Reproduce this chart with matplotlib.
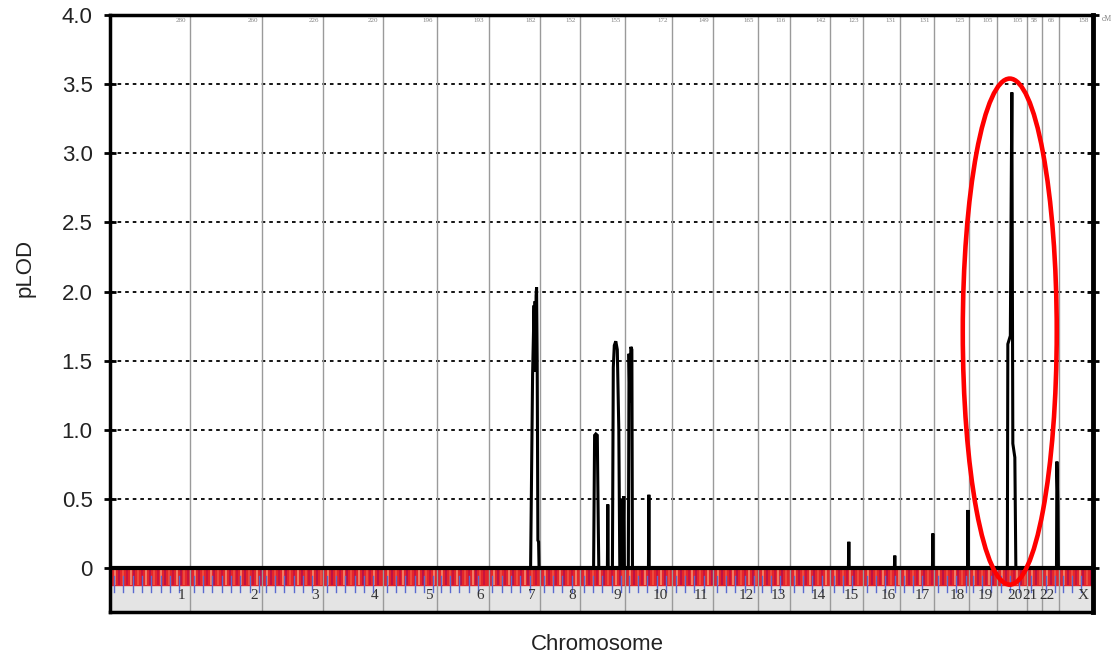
import matplotlib
matplotlib.use("Agg")
import matplotlib.pyplot as plt
from matplotlib.patches import Ellipse, Rectangle
import numpy as np

# chromosomes, drawn width (cM) and the length printed on top of each column
chrom_names = ["1", "2", "3", "4", "5", "6", "7", "8", "9", "10", "11", "12",
               "13", "14", "15", "16", "17", "18", "19", "20", "21", "22", "X"]
chrom_len = [291, 262, 222, 218, 196, 189, 186, 146, 164, 171, 149, 164,
             116, 146, 120, 135, 124, 127, 102, 109, 55, 62, 124]
chrom_top = ["280", "260", "226", "220", "196", "193", "182", "152", "155", "172", "149", "165",
             "116", "142", "123", "131", "131", "125", "105", "105", "58", "66", "158"]

# pLOD trace: chromosome index, cM from start of chromosome, pLOD
trace_chr = [6, 6, 6, 6, 6, 6, 6, 6, 6, 6, 6, 6,
             8, 8, 8, 8, 8, 8,
             8, 8, 8,
             8, 8, 8, 8, 8, 8, 8,
             8, 8, 8, 8, 8,
             9, 9, 9, 9, 9, 9,
             9, 9, 9,
             14, 14, 14,
             15, 15, 15,
             16, 16, 16,
             17, 17, 17,
             19, 19, 19, 19, 19, 19, 19,
             21, 21, 21, 21]
trace_cm = [152.9, 160.2, 165.6, 167.4, 169.3, 171.1, 172.9, 174.7, 176.9, 179.5, 182.0, 183.8,
            50.2, 53.9, 58.2, 63.7, 67.3, 69.2,
            100.5, 101.9, 103.4,
            118.7, 121.9, 125.6, 131.0, 136.5, 142.0, 145.6,
            152.9, 155.1, 157.2, 160.2, 162.3,
            12.7, 15.3, 18.2, 21.8, 25.5, 27.7,
            85.9, 87.4, 88.8,
            67.7, 69.2, 70.7,
            115.0, 116.5, 118.0,
            118.6, 120.1, 121.6,
            122.3, 123.8, 125.3,
            38.2, 40.0, 49.1, 54.6, 58.2, 65.5, 69.2,
            53.1, 54.6, 58.2, 60.0]
trace_lod = [0, 1.40, 1.90, 1.42, 1.93, 1.45, 1.97, 2.03, 1.50, 0.20, 0.19, 0,
             0, 0.96, 0.97, 0.96, 0.30, 0,
             0, 0.46, 0,
             0, 1.45, 1.61, 1.64, 1.58, 1.00, 0,
             0, 0.50, 0.10, 0.52, 0,
             0, 1.55, 1.20, 1.60, 1.58, 0,
             0, 0.53, 0,
             0, 0.19, 0,
             0, 0.09, 0,
             0, 0.25, 0,
             0, 0.42, 0,
             0, 1.62, 1.68, 3.44, 0.90, 0.80, 0,
             0, 0.77, 0.45, 0]

yticks = [0, 0.5, 1.0, 1.5, 2.0, 2.5, 3.0, 3.5, 4.0]
ytick_labels = ["0", "0.5", "1.0", "1.5", "2.0", "2.5", "3.0", "3.5", "4.0"]

plt.rcParams['font.family'] = ['Liberation Sans', 'DejaVu Sans']

starts = np.concatenate([[0], np.cumsum(chrom_len)[:-1]])
ends = np.cumsum(chrom_len)
total = ends[-1]

pos = starts[np.array(trace_chr)] + np.array(trace_cm)
xs = np.concatenate([[0], pos, [total]])
ys = np.concatenate([[0], trace_lod, [0]])

fig = plt.figure(figsize=(11.11, 6.58), dpi=100)
ax = fig.add_axes([110 / 1111, 46 / 658, 983 / 1111, 597 / 658])

y_bot = -0.318
band = -0.123
ax.set_xlim(0, total)
ax.set_ylim(y_bot, 4.0)

# grey band with chromosome numbers
ax.add_patch(Rectangle((0, y_bot), total, band - y_bot, color="#e4e4e4", zorder=0))
# red marker band
ax.add_patch(Rectangle((0, band), total, -band, color="#e4262a", zorder=1))
for s, l in zip(starts, chrom_len):
    k = 0
    for x in np.arange(s + 5, s + l - 3, 14):
        c = ["#c81240", "#f4866a", "#b8104a", "#ee5040"][k % 4]
        ax.plot([x, x], [band, 0], color=c, lw=1.3, zorder=1.5, solid_capstyle="butt")
        k += 1
    for x in np.arange(s + 14, s + l - 8, 34):
        ax.plot([x, x], [-0.06, -0.175], color="#5a6ad0", lw=1.0, zorder=2)

# dotted grid lines
for y in yticks[1:-1]:
    ax.axhline(y, color="k", lw=1.3, ls=(0, (2, 2.2)), zorder=2)

# chromosome borders
for e in ends[:-1]:
    ax.axvline(e, color="#9a9a9a", lw=1.0, zorder=2)

ax.axhline(0, color="k", lw=3, zorder=4)

ax.plot(xs, ys, color="k", lw=2.2, zorder=5, solid_joinstyle="miter")

# labels on the columns
for e, name, top in zip(ends, chrom_names, chrom_top):
    ax.annotate(name, xy=(e, -0.198), xytext=(-3, 0), textcoords="offset points",
                ha="right", va="center", fontsize=11, color="#333333",
                family="Liberation Serif")
    ax.annotate(top, xy=(e, 4.0), xytext=(-3, -4), textcoords="offset points",
                ha="right", va="center", fontsize=5, color="#808080",
                family="Liberation Serif")
ax.annotate("cM", xy=(total, 4.0), xytext=(6, -3), textcoords="offset points",
            ha="left", va="center", fontsize=5.5, color="#808080",
            family="Liberation Serif", annotation_clip=False)

# highlight around the chr20 peak
ax.add_patch(Ellipse((starts[19] + 47, 1.71), width=342, height=3.66, fill=False,
                     ec="#ff0000", lw=3.3, zorder=6, clip_on=False))

ax.set_yticks(yticks)
ax.set_yticklabels(ytick_labels, fontsize=16, color="#222222")
ax.set_xticks([])
ax.tick_params(axis="y", direction="inout", length=9, width=2, pad=8,
               right=True, labelright=False)

for side in ["left", "top", "bottom"]:
    ax.spines[side].set_linewidth(2.5)
ax.spines["right"].set_linewidth(3.5)

fig.text(25 / 1111, 1 - 268 / 658, "pLOD", rotation=90, ha="center", va="center",
         fontsize=16, color="#222222")
fig.text(597 / 1111, 1 - 645 / 658, "Chromosome", ha="center", va="center",
         fontsize=16, color="#222222")

fig.savefig("out.png", dpi=100)
